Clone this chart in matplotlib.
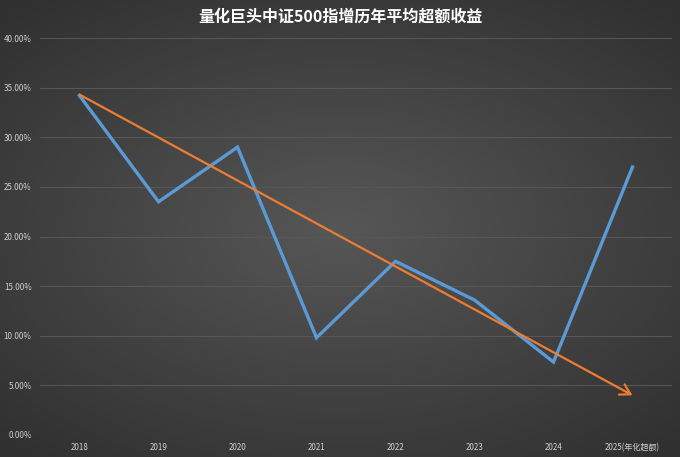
import numpy as np
import matplotlib
matplotlib.use("Agg")
import matplotlib.pyplot as plt

plt.rcParams["font.family"] = ["Noto Sans CJK SC", "DejaVu Sans"]

years = ["2018", "2019", "2020", "2021", "2022", "2023", "2024", "2025(年化超额)"]
excess = [34.2, 23.5, 29.0, 9.8, 17.5, 13.6, 7.35, 27.0]
trend_start = 34.3
trend_end = 4.0
yticks = [0, 5, 10, 15, 20, 25, 30, 35, 40]
title = "量化巨头中证500指增历年平均超额收益"

fig = plt.figure(figsize=(6.8, 4.57), dpi=100)

# radial-ish gradient background
bg = fig.add_axes([0, 0, 1, 1])
yy, xx = np.mgrid[-1:1:300j, -1:1:450j]
r = np.sqrt((xx * 0.9) ** 2 + (yy * 1.0) ** 2)
shade = 0.34 - 0.15 * np.clip(r / 1.3, 0, 1)
bg.imshow(np.dstack([shade, shade, shade]), aspect="auto", extent=[0, 1, 0, 1])
bg.set_axis_off()

ax = fig.add_axes([40 / 680, 22 / 457, 632 / 680, 397 / 457])
ax.patch.set_alpha(0)
x = np.arange(len(years))
ax.set_xlim(-0.5, len(years) - 0.5)
ax.set_ylim(0, 40)
ax.set_yticks(yticks)
ax.set_yticklabels([f"{v:.2f}%" for v in yticks])
ax.set_xticks(x)
ax.set_xticklabels(years)
ax.tick_params(colors="#d0d0d0", labelsize=5.8, length=0)
ax.tick_params(axis="x", pad=6)
ax.tick_params(axis="y", pad=6)
ax.grid(axis="y", color="#585858", lw=0.7)
ax.set_axisbelow(True)
for s in ax.spines.values():
    s.set_visible(False)

ax.plot(x, excess, color="#5b9bd5", lw=2.4, solid_joinstyle="miter", zorder=3)
ax.annotate("", xy=(x[-1], trend_end), xytext=(x[0], trend_start),
            arrowprops=dict(arrowstyle="->,head_length=0.6,head_width=0.35",
                            color="#ed7d31", lw=1.6,
                            mutation_scale=12, shrinkA=0, shrinkB=0),
            zorder=4)

fig.text(0.5, 1 - 17 / 457, title, ha="center", va="center",
         color="white", fontsize=11.5, fontweight="bold")

fig.savefig("out.png", dpi=100)
